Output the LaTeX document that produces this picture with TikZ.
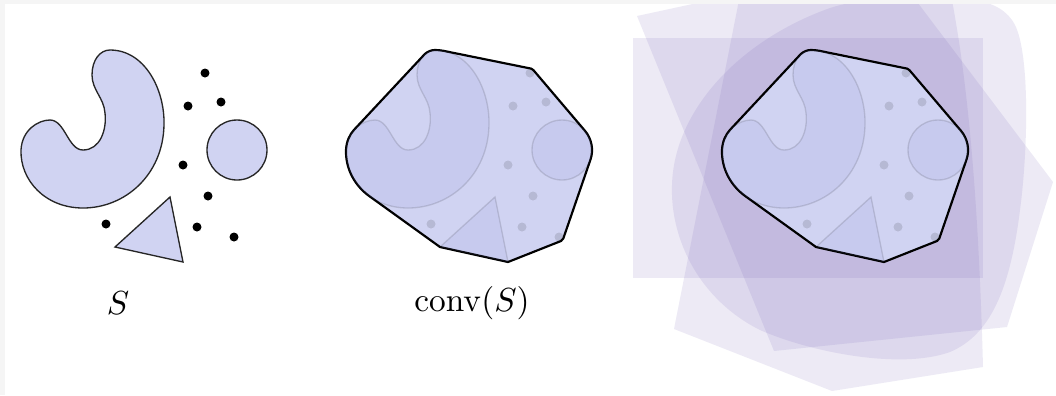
\documentclass[tikz,border=0pt]{standalone}
\usepackage{amsmath}
\usepackage{xcolor}
\definecolor{setblue}{RGB}{208,211,242}
\definecolor{fadeblue}{RGB}{140,145,215}
\definecolor{veilcol}{RGB}{110,90,180}
% boundary of the hook piece of S
\newcommand{\hookpath}{(110,50) .. controls (145,50) and (165,90) .. (164,125)
  .. controls (163,175) and (125,208) .. (83,208)
  .. controls (45,208) and (20,180) .. (21,150)
  .. controls (22,130) and (38,120) .. (50,120)
  .. controls (65,120) and (68,150) .. (83,150)
  .. controls (100,150) and (107,130) .. (105,113)
  .. controls (104,98) and (92,90) .. (92,75)
  .. controls (92,60) and (100,50) .. (110,50) -- cycle}
% boundary of conv(S)
\newcommand{\hullpath}{(44.47,196.22) .. controls (29.16,185.28) and (20.4,168) .. (21,150)
  .. controls (21.43,141.4) and (24.63,134.65) .. (29.1,129.75)
  -- (99.8,54.05) .. controls (102.69,51.44) and (106.2,50) .. (110,50)
  .. controls (112.8,50) and (115.5,50.26) .. (118.1,50.75)
  -- (206.1,68.6) .. controls (207.2,68.8) and (208,69.5) .. (208.4,70.1)
  -- (259.8,130.6) .. controls (266.7,138.7) and (268.9,149.8) .. (265.4,159.8)
  -- (238.3,238.5) .. controls (237.8,240) .. (236,241)
  -- (183,262) -- (115,247) -- cycle}
% the set S: hook, disc, triangle, points
\newcommand{\drawS}[2]{%
  \path[#1] \hookpath;
  \path[#1] (237,150) circle[radius=9pt];
  \path[#1] (170,197) -- (115,247) -- (183,262) -- cycle;
  \foreach \x/\y in {205/73, 188/106, 221/102, 183/165, 208/196, 106/224, 197/227, 234/237}
    \path[#2] (\x,\y) circle[radius=1.35pt];
}

\begin{document}
\begin{tikzpicture}[x=0.3pt, y=-0.3pt,
  shp/.style={fill=setblue, draw=black!85, line width=0.4pt},
  sdot/.style={fill=black},
  fshp/.style={fill=fadeblue, draw=black, line width=0.4pt, opacity=0.12},
  fdot/.style={fill=black, opacity=0.12},
  hull/.style={fill=setblue, draw=black, line width=0.65pt, line join=round},
  veil/.style={fill=veilcol, fill opacity=0.12}]
\useasboundingbox (0,0) rectangle (1056,395);
% page
\fill[black!4] (0,0) rectangle (1056,395);
\fill[white] (5,4) rectangle (1056,395);
% S
\drawS{shp}{sdot}
\node (lblS) at (118,303) {$S$};
% conv(S)
\begin{scope}[shift={(325,0)}]
  \path[hull] \hullpath;
  \drawS{fshp}{fdot}
\end{scope}
\node (lblconv) at (472,303) {$\mathrm{conv}(S)$};
% convex sets containing S
\begin{scope}
  \clip (620,4) rectangle (1056,395);
  \path[veil] (633,38) rectangle (983,278);
  \path[veil] (637,16) -- (887,-38) -- (1053,182) -- (1007,327) -- (774,351) -- cycle;
  \path[veil] (674,329) -- (832,391) -- (983,367) .. controls (979,220) and (970,90) .. (950,-10) -- (741,-10) -- cycle;
  \path[veil] (900,-2) .. controls (960,-4) and (1000,-4) .. (1015,25)
    .. controls (1030,55) and (1028,150) .. (1020,210)
    .. controls (1010,290) and (990,335) .. (950,352)
    .. controls (900,370) and (810,352) .. (760,330)
    .. controls (700,300) and (670,240) .. (672,185)
    .. controls (674,110) and (740,40) .. (830,8)
    .. controls (855,0) and (880,-1) .. (900,-2) -- cycle;
\end{scope}
\begin{scope}[shift={(701,0)}]
  \path[hull] \hullpath;
  \drawS{fshp}{fdot}
\end{scope}
\end{tikzpicture}
\end{document}
